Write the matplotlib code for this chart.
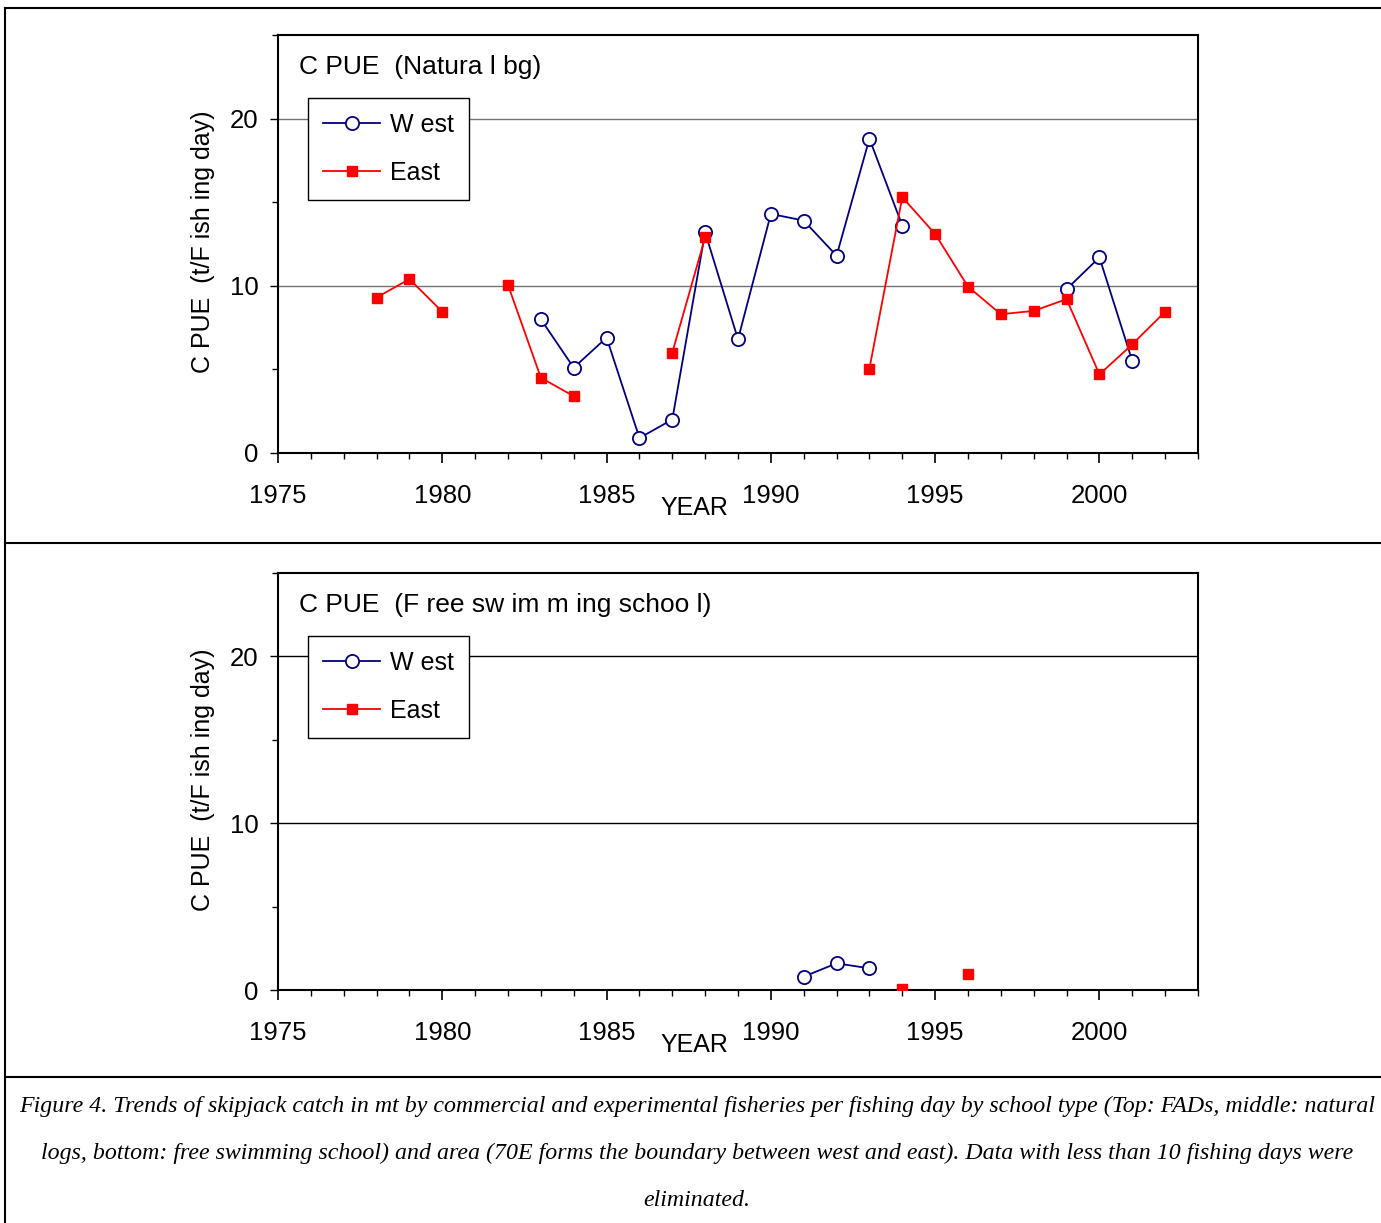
import numpy as np
import matplotlib
matplotlib.use('Agg')
import matplotlib.pyplot as plt
from matplotlib.lines import Line2D
from matplotlib.ticker import MultipleLocator

# data (NaN = gap in the line)
top_west_years = [1983, 1984, 1985, 1986, 1987, 1988, 1989, 1990, 1991, 1992, 1993, 1994, 1995, 1996, 1997, 1998, 1999, 2000, 2001]
top_west = [8.0, 5.1, 6.9, 0.9, 2.0, 13.2, 6.8, 14.3, 13.9, 11.8, 18.8, 13.6, np.nan, np.nan, np.nan, np.nan, 9.8, 11.7, 5.5]

top_east_years = [1978, 1979, 1980, 1981, 1982, 1983, 1984, 1985, 1986, 1987, 1988, 1989, 1990, 1991, 1992, 1993, 1994, 1995, 1996, 1997, 1998, 1999, 2000, 2001, 2002]
top_east = [9.3, 10.4, 8.45, np.nan, 10.05, 4.5, 3.4, np.nan, np.nan, 6.0, 12.9, np.nan, np.nan, np.nan, np.nan, 5.05, 15.3, 13.1, 9.95, 8.3, 8.5, 9.2, 4.7, 6.5, 8.45]

bot_west_years = [1991, 1992, 1993]
bot_west = [0.8, 1.6, 1.3]

bot_east_years = [1994, 1995, 1996]
bot_east = [0.05, np.nan, 0.95]

titles = ['C PUE  (Natura l bg)', 'C PUE  (F ree sw im m ing schoo l)']
ylabel = 'C PUE  (t/F ish ing day)'
caption = ['Figure 4. Trends of skipjack catch in mt by commercial and experimental fisheries per fishing day by school type (Top: FADs, middle: natural',
           'logs, bottom: free swimming school) and area (70E forms the boundary between west and east). Data with less than 10 fishing days were',
           'eliminated.']

plt.rcParams['font.family'] = ['Liberation Sans', 'DejaVu Sans']

W, H = 1381, 1223
fig = plt.figure(figsize=(W / 100, H / 100), dpi=100)

panels = [
    (35, 453, top_west_years, top_west, top_east_years, top_east, titles[0], '0.45'),
    (573, 990, bot_west_years, bot_west, bot_east_years, bot_east, titles[1], 'black'),
]

for ytop, ybot, wx, wy, ex, ey, title, gcol in panels:
    ax = fig.add_axes([278 / W, 1 - ybot / H, 920 / W, (ybot - ytop) / H])
    ax.set_xlim(1975, 2003)
    ax.set_ylim(0, 25)
    for v in (10, 20):
        ax.axhline(v, color=gcol, lw=1.0, zorder=1)
    ax.plot(wx, wy, color='#000080', lw=1.3, marker='o', ms=9.5, mfc='white',
            mec='#000080', mew=1.3, label='W est', zorder=3)
    ax.plot(ex, ey, color='red', lw=1.3, marker='s', ms=7, mfc='red',
            mec='red', label='East', zorder=3)

    ax.xaxis.set_major_locator(MultipleLocator(5))
    ax.xaxis.set_minor_locator(MultipleLocator(1))
    ax.yaxis.set_major_locator(MultipleLocator(10))
    ax.yaxis.set_minor_locator(MultipleLocator(5))
    ax.tick_params(axis='x', which='major', direction='out', length=7, width=1.2, pad=15, labelsize=18.5)
    ax.tick_params(axis='x', which='minor', direction='out', length=4, width=1)
    ax.tick_params(axis='y', which='major', direction='out', length=6, width=1, pad=8, labelsize=18.5)
    ax.tick_params(axis='y', which='minor', direction='out', length=4, width=1)
    ax.set_xticks(np.arange(1975, 2001, 5))
    for s in ax.spines.values():
        s.set_linewidth(1.5)

    ax.text(0.023, 0.923, title, transform=ax.transAxes, fontsize=19,
            va='center', ha='left')
    ax.text(0.453, -0.132, 'YEAR', transform=ax.transAxes, fontsize=18,
            va='center', ha='center')
    ax.text(-0.0815, 0.505, ylabel, transform=ax.transAxes, fontsize=18,
            va='center', ha='center', rotation=90)

    leg = ax.legend(loc='upper left', bbox_to_anchor=(0.0326, 0.849),
                    fancybox=False, framealpha=1, edgecolor='black',
                    prop={'size': 18}, handlelength=2.3,
                    borderpad=0.6, labelspacing=0.95, handletextpad=0.4,
                    borderaxespad=0)
    leg.get_frame().set_linewidth(1.0)

# outer frame and separators
for y in (8, 543, 1077):
    fig.add_artist(Line2D([5 / W, 1], [1 - y / H, 1 - y / H], color='black', lw=1.5))
fig.add_artist(Line2D([5 / W, 5 / W], [0, 1 - 8 / H], color='black', lw=1.5))

for line, y in zip(caption, (1106, 1153, 1201)):
    fig.text(697 / W, 1 - y / H, line, ha='center', va='center', fontsize=17.2,
             family=['Liberation Serif', 'DejaVu Serif'], style='italic')

fig.savefig('out.png', dpi=100)
